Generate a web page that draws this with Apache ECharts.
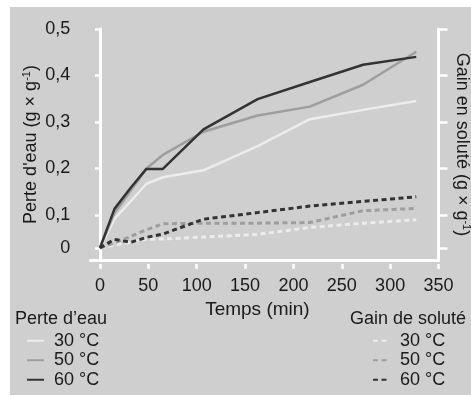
<!DOCTYPE html>
<html>
<head>
<meta charset="utf-8">
<script src="https://cdn.jsdelivr.net/npm/echarts@6/dist/echarts.min.js"></script>
<style>
  html, body { margin: 0; padding: 0; background: #ffffff; }
  #panel { position: absolute; left: 10px; top: 7px; width: 461px; height: 388px; background: #cfcfcf; }
  #chart { position: absolute; left: 0; top: 0; width: 471px; height: 396px; }
</style>
</head>
<body>
<div id="panel"></div>
<div id="chart"></div>
<script>
// Sampling times (min)
const times = [0, 15, 32, 48, 65, 107, 163, 217, 272, 327];

// Water loss (g × g-1)
const waterLoss30 = [0, 0.088, 0.130, 0.167, 0.181, 0.196, 0.248, 0.306, 0.326, 0.345];
const waterLoss50 = [0, 0.104, 0.153, 0.200, 0.229, 0.279, 0.314, 0.333, 0.380, 0.451];
const waterLoss60 = [0, 0.113, 0.159, 0.199, 0.199, 0.284, 0.349, 0.386, 0.423, 0.440];

// Solute gain (g × g-1)
const soluteGain30 = [0, 0.009, 0.018, 0.026, 0.027, 0.033, 0.041, 0.062, 0.075, 0.085];
const soluteGain50 = [0, 0.015, 0.035, 0.055, 0.073, 0.075, 0.075, 0.077, 0.109, 0.114];
const soluteGain60 = [0, 0.026, 0.017, 0.032, 0.042, 0.087, 0.105, 0.119, 0.129, 0.139];

const temperatures = ['30 °C', '50 °C', '60 °C'];
const xTicks = [0, 50, 100, 150, 200, 250, 300, 350];
const yTicks = [0, 0.1, 0.2, 0.3, 0.4, 0.5];

// The vertical scale is compressed between 0 and 0.1: 0 sits at ZERO_POS on the axis.
const ZERO_POS = 0.029;
const toAxis = v => v >= 0.1 ? v : ZERO_POS + v * (0.1 - ZERO_POS) / 0.1;
const fromAxis = u => u >= 0.1 ? u : (u - ZERO_POS) * 0.1 / (0.1 - ZERO_POS);

const FONT = 'Liberation Sans';
const TEXT = '#1a1a1a';
const shades = ['#ececec', '#9e9e9e', '#333333'];

function pairs(values) {
  return times.map((t, i) => [t, toAxis(values[i])]);
}

const lossSets = [waterLoss30, waterLoss50, waterLoss60];
const gainSets = [soluteGain30, soluteGain50, soluteGain60];
const LOSS = 'Perte d’eau · ';
const GAIN = 'Gain de soluté · ';

const series = [];
lossSets.forEach((vals, i) => series.push({
  name: LOSS + temperatures[i], type: 'line', data: pairs(vals),
  symbol: 'none', z: 3 + i,
  lineStyle: { color: shades[i], width: 2.5 }, itemStyle: { color: shades[i] }
}));
gainSets.forEach((vals, i) => series.push({
  name: GAIN + temperatures[i], type: 'line', data: pairs(vals),
  symbol: 'none', z: 3 + i,
  lineStyle: { color: shades[i], width: 3, type: [5, 3.5] }, itemStyle: { color: shades[i] }
}));

const yRange = { min: 0.003, max: 0.5 };
const xRange = { min: -10, max: 350 };
const white = '#ffffff';
const fmtY = u => { const v = Math.round(fromAxis(u) * 10) / 10; return v === 0 ? '0' : v.toFixed(1).replace('.', ','); };

const legendBase = {
  orient: 'vertical', itemWidth: 17, itemHeight: 10, itemGap: 0, padding: 0, height: 70,
  itemStyle: { opacity: 0, borderWidth: 0 },
  textStyle: { fontFamily: FONT, fontSize: 18, color: TEXT, lineHeight: 19.5, padding: [0, 0, 0, 5] },
  formatter: n => n.split(' · ')[1],
  selectedMode: false
};

const chart = echarts.init(document.getElementById('chart'), null, { renderer: 'canvas' });
chart.setOption({
  animation: false,
  backgroundColor: 'transparent',
  textStyle: { fontFamily: FONT },
  title: [
    { text: 'Perte d’eau', left: 10, top: 310, padding: [0, 5],
      textStyle: { fontFamily: FONT, fontSize: 18, fontWeight: 'normal', color: TEXT } },
    { text: 'Gain de soluté', left: 345, top: 310, padding: [0, 5],
      textStyle: { fontFamily: FONT, fontSize: 18, fontWeight: 'normal', color: TEXT } }
  ],
  legend: [
    Object.assign({ left: 26, top: 331, data: temperatures.map(t => LOSS + t) }, legendBase),
    Object.assign({ left: 372, top: 331, data: temperatures.map(t => GAIN + t) }, legendBase)
  ],
  grid: { left: 90.3, right: 32.5, top: 29, bottom: 136, containLabel: false, outerBoundsMode: 'none' },
  xAxis: [
    { type: 'value', ...xRange, position: 'bottom',
      axisLine: { show: true, lineStyle: { color: white, width: 3 } },
      axisTick: { show: false }, axisLabel: { show: false }, splitLine: { show: false } },
    { type: 'value', ...xRange, position: 'bottom', offset: 4,
      name: 'Temps (min)', nameLocation: 'middle', nameGap: 27,
      nameTextStyle: { fontFamily: FONT, fontSize: 19, color: TEXT, padding: [0, 14, 0, 0] },
      axisLine: { show: false },
      axisTick: { show: true, length: 5, customValues: xTicks, lineStyle: { color: white, width: 2.5 } },
      axisLabel: { customValues: xTicks, margin: 13, fontFamily: FONT, fontSize: 18, color: TEXT,
        showMinLabel: true, showMaxLabel: true },
      splitLine: { show: false } }
  ],
  yAxis: [
    { type: 'value', ...yRange, position: 'left',
      name: '{a|Perte d\'eau (g × g}{s|-1}{a|)}', nameLocation: 'middle', nameGap: 50, nameRotate: 90,
      nameTextStyle: { rich: {
        a: { fontFamily: FONT, fontSize: 18, color: TEXT },
        s: { fontFamily: FONT, fontSize: 11, color: TEXT, verticalAlign: 'top', padding: [0, 0, 8, 0] } } },
      axisLine: { show: true, lineStyle: { color: white, width: 3 } },
      axisTick: { show: false }, axisLabel: { show: false }, splitLine: { show: false } },
    { type: 'value', ...yRange, position: 'left', offset: 4,
      axisLine: { show: false },
      axisTick: { show: true, length: 5, customValues: yTicks.map(toAxis), lineStyle: { color: white, width: 2.5 } },
      axisLabel: { customValues: yTicks.map(toAxis), formatter: fmtY, margin: 16,
        fontFamily: FONT, fontSize: 18, color: TEXT, showMinLabel: true, showMaxLabel: true },
      splitLine: { show: false } },
    { type: 'value', ...yRange, position: 'right',
      name: '{a|Gain en soluté (g × g}{s|-1}{a|)}', nameLocation: 'middle', nameGap: 14, nameRotate: -90,
      nameTextStyle: { rich: {
        a: { fontFamily: FONT, fontSize: 18, color: TEXT },
        s: { fontFamily: FONT, fontSize: 11, color: TEXT, verticalAlign: 'top', padding: [0, 0, 8, 0] } } },
      axisLine: { show: true, lineStyle: { color: white, width: 3 } },
      axisTick: { show: true, length: 9, customValues: yTicks.map(toAxis), lineStyle: { color: white, width: 2.5 } },
      axisLabel: { show: false }, splitLine: { show: false } }
  ],
  series: series
});
</script>
</body>
</html>
